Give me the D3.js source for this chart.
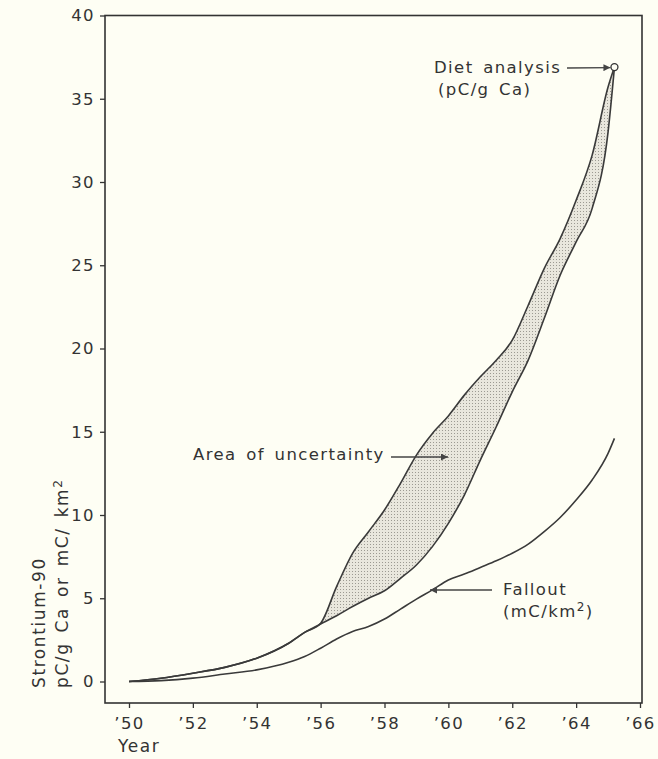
<!DOCTYPE html>
<html lang="en">
<head>
    <meta charset="UTF-8">
    <title>Strontium-90</title>
    <style>
        body { margin: 0; background: #fefef4; }
        svg { display: block; }
        text { font-family: 'DejaVu Sans', sans-serif; fill: #333; letter-spacing: 1.4px; }
        .tick text { font-size: 16.5px; }
        .lbl { font-size: 16.5px; word-spacing: 3px; }
        .ylbl { font-size: 17px; word-spacing: 3px; letter-spacing: 1.6px; }
    </style>
</head>
<body>

<div id="chart"></div>

<script src="https://d3js.org/d3.v7.min.js"></script>

<script>
    const width = 658, height = 759;

    // years shared by both edges of the uncertainty band
    const years = [1950, 1951, 1952, 1953, 1954, 1955, 1955.5, 1956, 1956.5, 1957, 1957.5, 1958, 1958.5,
        1959, 1959.5, 1960, 1960.5, 1961, 1961.5, 1962, 1962.5, 1963, 1963.5, 1964, 1964.5, 1965, 1965.2];
    // diet analysis, high edge of the band (pC/g Ca)
    const dietHigh = [0, 0.2, 0.5, 0.85, 1.4, 2.3, 2.95, 3.5, 5.7, 7.7, 9.0, 10.3, 11.9,
        13.6, 14.9, 15.95, 17.2, 18.3, 19.3, 20.5, 22.6, 24.8, 26.6, 28.9, 31.6, 35.7, 36.9];
    // diet analysis, low edge of the band
    const dietLow = [0, 0.2, 0.5, 0.85, 1.4, 2.3, 2.95, 3.45, 3.95, 4.5, 5.0, 5.45, 6.2,
        7.0, 8.1, 9.5, 11.2, 13.3, 15.3, 17.4, 19.3, 21.8, 24.4, 26.4, 28.4, 33.0, 36.9];
    // fallout (mC/km2)
    const fallout = [0, 0.05, 0.2, 0.45, 0.7, 1.15, 1.5, 2.0, 2.55, 3.0, 3.3, 3.75, 4.35,
        4.95, 5.5, 6.1, 6.45, 6.85, 7.25, 7.7, 8.25, 9.0, 9.85, 10.9, 12.1, 13.7, 14.6];

    const xTicks = [1950, 1952, 1954, 1956, 1958, 1960, 1962, 1964, 1966];
    const yTicks = [0, 5, 10, 15, 20, 25, 30, 35, 40];
    const dietPoint = { year: 1965.2, value: 36.9 };

    const svg = d3.select("#chart").append("svg")
        .attr("width", width)
        .attr("height", height);

    const x = d3.scaleLinear().domain([1950, 1966]).range([129, 640]);
    const y = d3.scaleLinear().domain([0, 40]).range([681.5, 15.5]);

    const frameLeft = 105, frameRight = 642, frameTop = 15.5, frameBottom = 703;

    // dotted fill for the band
    const defs = svg.append("defs");
    const pat = defs.append("pattern")
        .attr("id", "dots")
        .attr("width", 3).attr("height", 3)
        .attr("patternUnits", "userSpaceOnUse");
    pat.append("rect").attr("width", 3).attr("height", 3).attr("fill", "#e9e7dd");
    pat.append("rect").attr("x", 1).attr("y", 1).attr("width", 1).attr("height", 1).attr("fill", "#9c9a92");

    const rows = years.map((yr, i) => ({ year: yr, hi: dietHigh[i], lo: dietLow[i], f: fallout[i] }));

    const area = d3.area()
        .x(d => x(d.year))
        .y0(d => y(d.lo))
        .y1(d => y(d.hi))
        .curve(d3.curveMonotoneX);

    svg.append("path")
        .datum(rows)
        .attr("d", area)
        .attr("fill", "url(#dots)");

    const lineOf = key => d3.line()
        .x(d => x(d.year))
        .y(d => y(d[key]))
        .curve(d3.curveMonotoneX);

    ["hi", "lo", "f"].forEach(k => {
        svg.append("path")
            .datum(rows)
            .attr("d", lineOf(k))
            .attr("fill", "none")
            .attr("stroke", "#3a3a3a")
            .attr("stroke-width", 1.6);
    });

    // frame
    svg.append("rect")
        .attr("x", frameLeft).attr("y", frameTop)
        .attr("width", frameRight - frameLeft)
        .attr("height", frameBottom - frameTop)
        .attr("fill", "none")
        .attr("stroke", "#333")
        .attr("stroke-width", 1.6);

    // axes
    const yAxis = svg.append("g")
        .attr("transform", `translate(${frameLeft},0)`)
        .call(d3.axisLeft(y).tickValues(yTicks).tickSize(5).tickPadding(5));
    const xAxis = svg.append("g")
        .attr("transform", `translate(0,${frameBottom})`)
        .call(d3.axisBottom(x).tickValues(xTicks).tickSize(5).tickPadding(9)
            .tickFormat(d => "\u2019" + String(d).slice(2)));
    [yAxis, xAxis].forEach(g => {
        g.select(".domain").remove();
        g.selectAll(".tick line").attr("stroke", "#333").attr("stroke-width", 1.3);
        g.selectAll(".tick text").attr("fill", "#333").attr("font-family", null).attr("font-size", null);
    });

    // axis titles
    svg.append("text").attr("class", "ylbl").attr("x", 118).attr("y", 752).text("Year");
    svg.append("text")
        .attr("class", "ylbl")
        .attr("transform", "translate(45,688) rotate(-90)")
        .text("Strontium-90");
    const yl2 = svg.append("text")
        .attr("class", "ylbl")
        .attr("transform", "translate(68,688) rotate(-90)");
    yl2.append("tspan").text("pC/g Ca or mC/ km");
    yl2.append("tspan").attr("dy", -6).style("font-size", "12px").text("2");

    // arrowheads
    defs.append("marker")
        .attr("id", "arrow")
        .attr("viewBox", "0 0 10 10")
        .attr("refX", 10).attr("refY", 5)
        .attr("markerWidth", 9).attr("markerHeight", 7)
        .attr("markerUnits", "userSpaceOnUse")
        .attr("orient", "auto")
        .append("path").attr("d", "M0,0L10,5L0,10Z").attr("fill", "#444");

    const arrow = (x1, y1, x2, y2) => svg.append("line")
        .attr("x1", x1).attr("y1", y1).attr("x2", x2).attr("y2", y2)
        .attr("stroke", "#444").attr("stroke-width", 1.3)
        .attr("marker-end", "url(#arrow)");

    // diet analysis label and point
    svg.append("text").attr("class", "lbl").attr("x", 434).attr("y", 73).text("Diet analysis");
    svg.append("text").attr("class", "lbl").attr("x", 438).attr("y", 95).text("(pC/g Ca)");
    arrow(567, 68, x(dietPoint.year) - 4, y(dietPoint.value) + 0.5);
    svg.append("circle")
        .attr("cx", x(dietPoint.year)).attr("cy", y(dietPoint.value))
        .attr("r", 3.5)
        .attr("fill", "#fefef4").attr("stroke", "#333").attr("stroke-width", 1.3);

    // area of uncertainty
    svg.append("text").attr("class", "lbl").attr("x", 193).attr("y", 460).text("Area of uncertainty");
    arrow(391, 457, 448, 457);

    // fallout
    svg.append("text").attr("class", "lbl").attr("x", 503).attr("y", 595).text("Fallout");
    const ft = svg.append("text").attr("class", "lbl").attr("x", 503).attr("y", 617);
    ft.append("tspan").text("(mC/km");
    ft.append("tspan").attr("dy", -6).style("font-size", "12px").text("2");
    ft.append("tspan").attr("dy", 6).text(")");
    arrow(492, 590, 430, 590);
</script>

</body>
</html>
